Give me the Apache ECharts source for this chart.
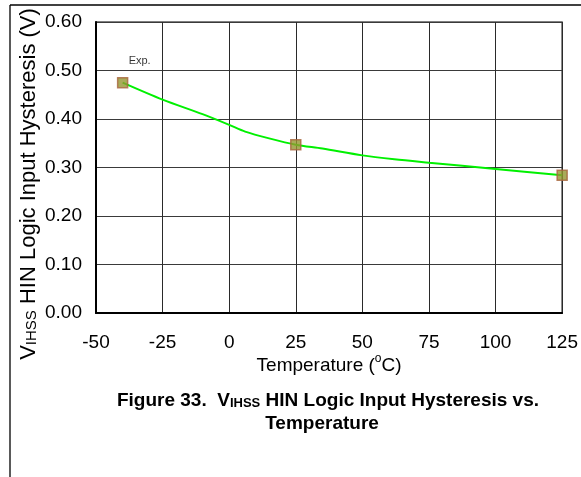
<!DOCTYPE html>
<html>
<head>
<meta charset="utf-8">
<script src="https://cdn.jsdelivr.net/npm/echarts@6/dist/echarts.min.js"></script>
<style>
  html, body { margin: 0; padding: 0; background: #fff; }
  #chart { width: 581px; height: 477px; }
</style>
</head>
<body>
<div id="chart"></div>
<script>
// Measured hysteresis at three temperatures (°C, V)
const measTemp = [-40, 25, 125];
const measHyst = [0.475, 0.347, 0.284];

// Fitted trend curve through the measurements
const trendTemp = [-40, -25, -10, 0, 6, 15, 25, 35, 50, 62, 75, 100, 125];
const trendHyst = [0.475, 0.440, 0.410, 0.388, 0.374, 0.360, 0.347, 0.339, 0.325, 0.317, 0.310, 0.297, 0.284];

// Axis ticks
const xTicks = [-50, -25, 0, 25, 50, 75, 100, 125];
const yTicks = [0.00, 0.10, 0.20, 0.30, 0.40, 0.50, 0.60];

const FONT = '"Liberation Sans", Arial, sans-serif';

const chart = echarts.init(document.getElementById('chart'), null, { renderer: 'canvas' });

chart.setOption({
  animation: false,
  backgroundColor: '#ffffff',
  grid: {
    left: 96, top: 22, right: 18, bottom: 164,
    show: true, borderColor: '#000', borderWidth: 1.2, backgroundColor: 'transparent'
  },
  xAxis: {
    type: 'value',
    min: xTicks[0], max: xTicks[xTicks.length - 1], interval: 25,
    axisLine: { show: true, onZero: false, lineStyle: { color: '#000', width: 2 } },
    axisTick: { show: false },
    splitLine: { show: true, lineStyle: { color: '#2a2a2a', width: 1 } },
    axisLabel: { color: '#000', fontFamily: FONT, fontSize: 19, margin: 20 },
    name: '{t|Temperature (}{s|o}{t|C)}',
    nameLocation: 'middle', nameGap: 40,
    nameMoveOverlap: false,
    nameTextStyle: {
      rich: {
        t: { fontFamily: FONT, fontSize: 19, color: '#000', verticalAlign: 'bottom', lineHeight: 22 },
        s: { fontFamily: FONT, fontSize: 12, color: '#000', verticalAlign: 'top', lineHeight: 22 }
      }
    }
  },
  yAxis: {
    type: 'value',
    min: yTicks[0], max: yTicks[yTicks.length - 1], interval: 0.1,
    axisLine: { show: true, onZero: false, lineStyle: { color: '#000', width: 2 } },
    axisTick: { show: false },
    splitLine: { show: true, lineStyle: { color: '#3a3a3a', width: 1 } },
    axisLabel: {
      color: '#000', fontFamily: FONT, fontSize: 19, margin: 14,
      formatter: v => v.toFixed(2)
    }
  },
  graphic: [
    // outer figure frame (top and left edges)
    { type: 'line', shape: { x1: 10, y1: 5, x2: 581, y2: 5 }, style: { stroke: '#000', lineWidth: 1.3 }, z: 10 },
    { type: 'line', shape: { x1: 10, y1: 5, x2: 10, y2: 477 }, style: { stroke: '#000', lineWidth: 1.3 }, z: 10 },
    // y-axis title
    {
      type: 'text', x: 27, y: 184, rotation: Math.PI / 2,
      style: {
        text: '{v|V}{s|IHSS}{v| HIN Logic Input Hysteresis (V)}',
        textAlign: 'center', textVerticalAlign: 'middle',
        rich: {
          v: { fontFamily: FONT, fontSize: 22, fill: '#000', verticalAlign: 'bottom', lineHeight: 25 },
          s: { fontFamily: FONT, fontSize: 15, fill: '#000', verticalAlign: 'bottom', lineHeight: 18 }
        }
      }
    },
    // figure caption
    {
      type: 'text', x: 328, y: 399,
      style: {
        text: '{b|Figure 33.  V}{s|IHSS}{b| HIN Logic Input Hysteresis vs.}',
        textAlign: 'center', textVerticalAlign: 'middle',
        rich: {
          b: { fontFamily: FONT, fontSize: 19, fontWeight: 'bold', fill: '#000', verticalAlign: 'bottom', lineHeight: 22 },
          s: { fontFamily: FONT, fontSize: 13, fontWeight: 'bold', fill: '#000', verticalAlign: 'bottom', lineHeight: 17 }
        }
      }
    },
    {
      type: 'text', x: 322, y: 424,
      style: {
        text: 'Temperature', textAlign: 'center', textVerticalAlign: 'middle',
        font: 'bold 19px ' + FONT, fill: '#000'
      }
    }
  ],
  series: [
    {
      type: 'line',
      data: trendTemp.map((t, i) => [t, trendHyst[i]]),
      smooth: 0.3,
      showSymbol: false,
      lineStyle: { color: '#00f000', width: 2 },
      z: 3
    },
    {
      type: 'scatter',
      data: measTemp.map((t, i) => ({
        value: [t, measHyst[i]],
        label: i === 0 ? {
          show: true, formatter: 'Exp.', position: 'top', distance: 5, offset: [17, -5],
          fontFamily: FONT, fontSize: 11, color: '#000'
        } : { show: false }
      })),
      symbol: 'rect',
      symbolSize: 10,
      itemStyle: { color: '#939630', borderColor: '#a8643c', borderWidth: 1.5 },
      z: 5
    }
  ]
});
</script>
</body>
</html>
